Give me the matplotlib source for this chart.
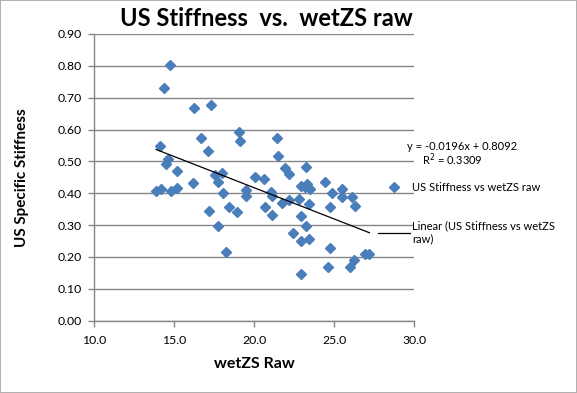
import matplotlib
matplotlib.use("Agg")
import matplotlib.pyplot as plt
import numpy as np

# ---- data ----
wet_zs = [14.73, 14.37, 16.2, 17.3, 19.06, 19.1, 14.13, 16.69, 17.09, 14.63,
          14.5, 15.19, 16.19, 17.55, 18.0, 17.75, 18.06, 13.86, 14.17, 14.77,
          15.15, 17.19, 17.75, 18.4, 18.92, 18.23, 21.4, 21.5, 21.94, 22.17,
          23.25, 20.06, 20.63, 24.4, 22.94, 23.3, 23.5, 25.5, 24.88, 19.5,
          19.46, 21.04, 21.09, 21.73, 22.19, 22.8, 23.44, 24.73, 20.69, 21.13,
          22.92, 23.2, 22.44, 22.92, 23.44, 24.73, 24.6, 22.94, 25.46, 26.08,
          26.3, 26.2, 26.0, 26.92, 27.19, 23.15]
us_stiff = [0.803, 0.730, 0.667, 0.677, 0.591, 0.564, 0.548, 0.572, 0.534, 0.507,
            0.491, 0.470, 0.433, 0.456, 0.463, 0.435, 0.400, 0.406, 0.412, 0.406,
            0.417, 0.343, 0.297, 0.356, 0.340, 0.216, 0.573, 0.516, 0.478, 0.460,
            0.482, 0.450, 0.444, 0.434, 0.424, 0.430, 0.414, 0.414, 0.400, 0.410,
            0.390, 0.404, 0.391, 0.370, 0.380, 0.381, 0.367, 0.358, 0.358, 0.332,
            0.329, 0.297, 0.274, 0.251, 0.258, 0.227, 0.168, 0.146, 0.389, 0.389,
            0.361, 0.190, 0.168, 0.209, 0.209, 0.420]
trend_slope = -0.0196
trend_intercept = 0.8092
r_squared = 0.3309
x_ticks = [10.0, 15.0, 20.0, 25.0, 30.0]
y_ticks = [0.0, 0.1, 0.2, 0.3, 0.4, 0.5, 0.6, 0.7, 0.8, 0.9]

series_label = "US Stiffness vs wetZS raw"
trend_label = "Linear (US Stiffness vs wetZS\nraw)"

# ---- figure ----
W, H = 577, 393
fig = plt.figure(figsize=(W / 100, H / 100), dpi=100)
fig.patch.set_facecolor("white")
fig.patch.set_edgecolor("#B0B0B0")
fig.patch.set_linewidth(1.2)

plt.rcParams['font.family'] = ['Lato', 'DejaVu Sans']

ax = fig.add_axes([94.3 / W, 1 - 320.7 / H, 320 / W, 286.7 / H])
ax.set_xlim(10, 30)
ax.set_ylim(0, 0.9)

grid_c = "#868686"
ax.set_yticks(y_ticks)
ax.set_xticks(x_ticks)
ax.set_yticklabels([f"{v:.2f}" for v in y_ticks], fontsize=8.8)
ax.set_xticklabels([f"{v:.1f}" for v in x_ticks], fontsize=8.8)
ax.yaxis.grid(True, color=grid_c, linewidth=1.0)
ax.set_axisbelow(True)
for s in ["top", "right"]:
    ax.spines[s].set_visible(False)
for s in ["left", "bottom"]:
    ax.spines[s].set_color(grid_c)
    ax.spines[s].set_linewidth(1.0)
ax.tick_params(axis="both", direction="out", length=4, color=grid_c, width=1.0)
ax.tick_params(axis="y", pad=5)
ax.tick_params(axis="x", pad=6)

blue = "#4A7EBB"
pts, = ax.plot(wet_zs, us_stiff, linestyle="none", marker="D", markersize=5.6,
               color=blue, markeredgecolor=blue, zorder=3, clip_on=False)

xs = np.array([min(wet_zs), max(wet_zs)])
tl, = ax.plot(xs, trend_slope * xs + trend_intercept, color="black",
              linewidth=0.9, zorder=4)

# legend
leg = fig.legend([pts, tl], [series_label, trend_label],
                 loc="upper left", bbox_to_anchor=(378 / W, 1 - 182 / H),
                 frameon=False, fontsize=8, handlelength=2.9,
                 handletextpad=0.15, labelspacing=2.5, borderaxespad=0,
                 borderpad=0)

# trendline equation
fig.text(462 / W, 1 - 146 / H, f"y = {trend_slope:.4f}x + {trend_intercept:.4f}",
         ha="center", va="center", fontsize=8)
fig.text(452 / W, 1 - 160 / H, f"R$^2$ = {r_squared:.4f}",
         ha="center", va="center", fontsize=8)

# titles
fig.text(266 / W, 1 - 18 / H, "US Stiffness  vs.  wetZS raw", ha="center",
         va="center", fontsize=17, fontweight="bold")
fig.text(254 / W, 1 - 364 / H, "wetZS Raw", ha="center", va="center",
         fontsize=11.5, fontweight="bold")
fig.text(22 / W, 1 - 178 / H, "US Specific Stiffness", ha="center",
         va="center", rotation=90, fontsize=11, fontweight="bold")

fig.savefig("out.png", dpi=100, facecolor=fig.get_facecolor(),
            edgecolor=fig.get_edgecolor())
